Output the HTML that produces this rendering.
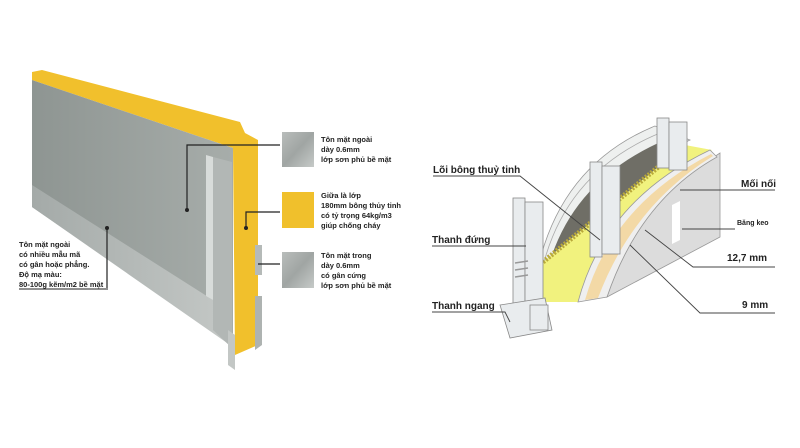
<!DOCTYPE html>
<html><head><meta charset="utf-8"><style>
html,body{margin:0;padding:0;background:#fff;}
svg{display:block;}
text{font-family:"Liberation Sans",sans-serif;font-weight:bold;}
</style></head><body>
<svg width="800" height="448" viewBox="0 0 800 448" xmlns="http://www.w3.org/2000/svg">
<defs>
<linearGradient id="face" x1="0" y1="0" x2="1" y2="0"><stop offset="0" stop-color="#8e9592"/><stop offset="1" stop-color="#a7adaa"/></linearGradient>
<linearGradient id="strip" x1="0" y1="0" x2="1" y2="0"><stop offset="0" stop-color="#a4aaa8"/><stop offset="1" stop-color="#c4c8c6"/></linearGradient>
<linearGradient id="sw" x1="0" y1="0" x2="1" y2="1"><stop offset="0" stop-color="#b9bdbb"/><stop offset=".5" stop-color="#a0a5a3"/><stop offset="1" stop-color="#c6cac8"/></linearGradient>
</defs>
<!-- LEFT PANEL -->
<polygon points="32,72 42,70 240,122 245,133 258,140 258,345 235,355 233,148 32,80" fill="#f1c02c"/>
<polygon points="32,80 233,148 233,345 32,207" fill="url(#face)"/>
<polygon points="32,185 213,300 230,318 230,345 32,207" fill="url(#strip)"/>
<polygon points="206,155 213,157 213,300 206,296" fill="#d8dcda"/>
<polygon points="213,157 232,162 232,348 213,330" fill="#b2b7b5"/>
<polygon points="228,330 235,335 235,370 228,365" fill="#c3c7c5"/>
<polygon points="255,245 262,245 262,275 255,275" fill="#b5bab8"/>
<polygon points="255,296 262,296 262,345 255,350" fill="#aeb3b1"/>
<g stroke="#222" stroke-width="1.2" fill="none">
<polyline points="187,210 187,145 280,145"/>
<polyline points="246,228 246,212 280,212"/>
<polyline points="258,264 280,264"/>
<line x1="107" y1="228" x2="107" y2="288"/>
</g>
<circle cx="187" cy="210" r="2" fill="#222"/><circle cx="246" cy="228" r="2" fill="#222"/><circle cx="107" cy="228" r="2" fill="#222"/>
<rect x="282" y="132" width="32" height="35" fill="url(#sw)"/>
<rect x="282" y="192" width="32" height="36" fill="#f0c02c"/>
<rect x="282" y="252" width="32" height="36" fill="url(#sw)"/>
<g font-size="7.5" fill="#222">
<text x="321" y="142">Tôn mặt ngoài</text><text x="321" y="152">dày 0.6mm</text><text x="321" y="162">lớp sơn phủ bề mặt</text>
<text x="321" y="198">Giữa là lớp</text><text x="321" y="208">180mm bông thủy tinh</text><text x="321" y="218">có tỷ trọng 64kg/m3</text><text x="321" y="228">giúp chống cháy</text>
<text x="321" y="258">Tôn mặt trong</text><text x="321" y="268">dày 0.6mm</text><text x="321" y="278">có gân cứng</text><text x="321" y="288">lớp sơn phủ bề mặt</text>
<text x="19" y="247">Tôn mặt ngoài</text><text x="19" y="257">có nhiều mẫu mã</text><text x="19" y="267">có gân hoặc phẳng.</text><text x="19" y="277">Độ mạ màu:</text><text x="19" y="287">80-100g kẽm/m2 bề mặt</text>
</g>
<line x1="19" y1="289" x2="108" y2="289" stroke="#222" stroke-width="1"/>
<!-- RIGHT DIAGRAM -->
<path d="M537,272 Q560,165 655,126 L690,140 Q600,180 548,268 Z" fill="#eef0ef" stroke="#999" stroke-width="0.8"/>
<path d="M542,270 Q565,172 660,133" stroke="#aaa" stroke-width="0.8" fill="none"/>
<path d="M548,268 Q572,180 665,140 L685,145 Q600,215 543,262 Z" fill="#6f6e66"/>
<path d="M543,262 Q600,215 685,145 L712,150 Q600,210 578,302 L543,302 Z" fill="#f1f27e"/>
<path d="M543,262 Q600,215 685,145" stroke="#b9a93a" stroke-width="5" fill="none" stroke-dasharray="2 1.5"/>
<path d="M607,297 Q640,200 717,155 L720,153 L720,237 Z" fill="#dcdcdc" stroke="#999" stroke-width="0.8"/>
<path d="M578,302 Q605,200 710,150 L717,157 Q640,200 607,297 Z" fill="#efefef" stroke="#999" stroke-width="0.8"/>
<path d="M585,300 Q612,205 711,154 L713,156 Q633,205 598,298 Z" fill="#f3d9a6"/>
<polygon points="672,205 680,201 680,240 672,244" fill="#fff"/>
<g fill="#e9ecee" stroke="#888" stroke-width="0.8">
<rect x="513" y="198" width="12" height="125"/><rect x="525" y="202" width="18" height="118"/>
<rect x="590" y="162" width="12" height="95"/><rect x="602" y="166" width="18" height="88"/>
<rect x="657" y="118" width="12" height="50"/><rect x="669" y="122" width="18" height="48"/>
<polygon points="500,305 545,298 552,330 510,338"/>
<rect x="530" y="305" width="18" height="25"/>
</g>
<g stroke="#999" stroke-width="1.5"><line x1="515" y1="263" x2="528" y2="261"/><line x1="515" y1="270" x2="528" y2="268"/><line x1="515" y1="277" x2="528" y2="275"/></g>
<g stroke="#444" stroke-width="0.9" fill="none">
<polyline points="433,176 520,176 600,240"/>
<polyline points="432,246 526,246"/>
<polyline points="432,312 505,312 510,322"/>
<polyline points="680,190 775,190"/>
<polyline points="682,229 735,229"/>
<polyline points="645,230 693,267 775,267"/>
<polyline points="630,245 700,313 775,313"/>
</g>
<g font-size="10" fill="#222">
<text x="433" y="173">Lõi bông thuỷ tinh</text>
<text x="432" y="243">Thanh đứng</text>
<text x="432" y="309">Thanh ngang</text>
<text x="741" y="187">Mối nối</text>
<text x="727" y="261">12,7 mm</text>
<text x="742" y="308">9 mm</text>
</g>
<text x="737" y="225" font-size="7" fill="#222">Băng keo</text>
</svg>
</body></html>
